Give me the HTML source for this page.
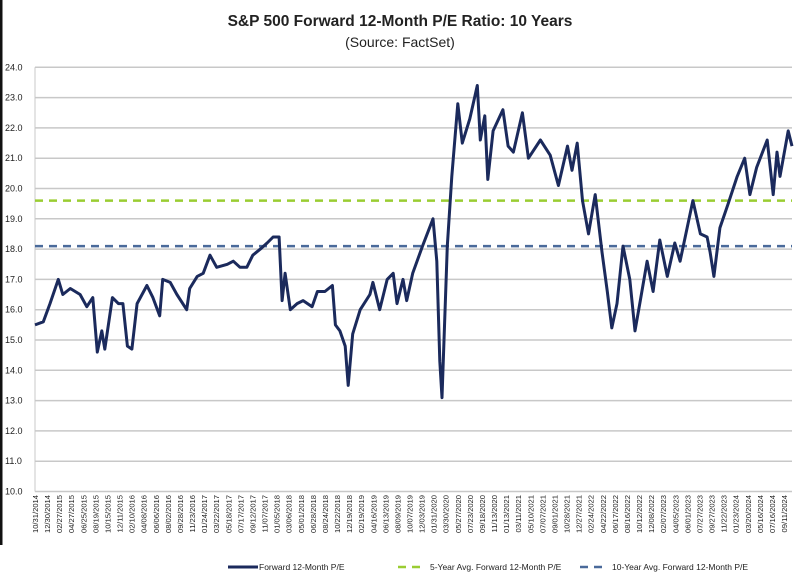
<!DOCTYPE html>
<html><head><meta charset="utf-8"><style>
body{margin:0;background:#fff;width:800px;height:580px;overflow:hidden;font-family:"Liberation Sans",Arial,sans-serif}
svg{display:block}
</style></head><body>
<svg id="chart" width="800" height="580">
<rect x="0" y="0" width="2.5" height="545" fill="#111"/>
<text x="400" y="26" text-anchor="middle" font-size="15.5" font-weight="bold" fill="#222">S&amp;P 500 Forward 12-Month P/E Ratio: 10 Years</text>
<text x="400" y="47" text-anchor="middle" font-size="14" fill="#222">(Source: FactSet)</text>
<g id="grid"></g><g id="ylabels"></g><g id="xlabels"></g><g id="refs"></g><g id="series"></g>
<g>
<line x1="228" y1="567" x2="258" y2="567" stroke="#1b2a5c" stroke-width="3"/>
<text x="259" y="570" font-size="8.5" fill="#222">Forward 12-Month P/E</text>
<line x1="398" y1="567" x2="426" y2="567" stroke="#9acd32" stroke-width="2.5" stroke-dasharray="8,6"/>
<text x="430" y="570" font-size="8.5" fill="#222">5-Year Avg. Forward 12-Month P/E</text>
<line x1="580" y1="567" x2="608" y2="567" stroke="#4a6a9a" stroke-width="2.5" stroke-dasharray="8,6"/>
<text x="612" y="570" font-size="8.5" fill="#222">10-Year Avg. Forward 12-Month P/E</text>
</g>
</svg>
<script>
const yTicks=[10,11,12,13,14,15,16,17,18,19,20,21,22,23,24];
const xDates=["10/31/2014","12/30/2014","02/27/2015","04/27/2015","06/25/2015","08/19/2015","10/15/2015","12/11/2015","02/10/2016","04/08/2016","06/06/2016","08/02/2016","09/28/2016","11/23/2016","01/24/2017","03/22/2017","05/18/2017","07/17/2017","09/12/2017","11/07/2017","01/05/2018","03/06/2018","05/01/2018","06/28/2018","08/24/2018","10/22/2018","12/19/2018","02/19/2019","04/16/2019","06/13/2019","08/09/2019","10/07/2019","12/03/2019","01/31/2020","03/30/2020","05/27/2020","07/23/2020","09/18/2020","11/13/2020","01/13/2021","03/11/2021","05/10/2021","07/07/2021","09/01/2021","10/28/2021","12/27/2021","02/24/2022","04/22/2022","06/17/2022","08/16/2022","10/12/2022","12/08/2022","02/07/2023","04/05/2023","06/01/2023","07/27/2023","09/27/2023","11/22/2023","01/23/2024","03/20/2024","05/16/2024","07/16/2024","09/11/2024"];
const times=[2014.83,2014.94,2015.03,2015.14,2015.20,2015.30,2015.43,2015.52,2015.60,2015.66,2015.72,2015.76,2015.86,2015.94,2016.00,2016.06,2016.12,2016.19,2016.32,2016.40,2016.49,2016.53,2016.63,2016.72,2016.85,2016.89,2016.99,2017.07,2017.16,2017.25,2017.39,2017.47,2017.56,2017.65,2017.73,2017.83,2017.92,2018.00,2018.08,2018.12,2018.16,2018.23,2018.32,2018.40,2018.52,2018.59,2018.69,2018.79,2018.83,2018.89,2018.96,2019.00,2019.06,2019.16,2019.29,2019.33,2019.42,2019.52,2019.60,2019.65,2019.73,2019.78,2019.86,2019.99,2020.13,2020.18,2020.22,2020.25,2020.32,2020.38,2020.46,2020.52,2020.62,2020.72,2020.76,2020.82,2020.86,2020.93,2021.06,2021.13,2021.20,2021.32,2021.40,2021.56,2021.69,2021.80,2021.92,2021.98,2022.05,2022.12,2022.20,2022.29,2022.38,2022.45,2022.51,2022.58,2022.66,2022.75,2022.82,2022.89,2022.98,2023.06,2023.15,2023.25,2023.35,2023.42,2023.59,2023.69,2023.78,2023.82,2023.87,2023.95,2024.06,2024.18,2024.28,2024.35,2024.44,2024.58,2024.66,2024.71,2024.75,2024.86,2024.91];
const pe=[15.5,15.6,16.2,17.0,16.5,16.7,16.5,16.1,16.4,14.6,15.3,14.7,16.4,16.2,16.2,14.8,14.7,16.2,16.8,16.4,15.8,17.0,16.9,16.5,16.0,16.7,17.1,17.2,17.8,17.4,17.5,17.6,17.4,17.4,17.8,18.0,18.2,18.4,18.4,16.3,17.2,16.0,16.2,16.3,16.1,16.6,16.6,16.8,15.5,15.3,14.8,13.5,15.2,16.0,16.5,16.9,16.0,17.0,17.2,16.2,17.0,16.3,17.2,18.1,19.0,17.6,14.3,13.1,18.1,20.4,22.8,21.5,22.3,23.4,21.6,22.4,20.3,21.9,22.6,21.4,21.2,22.5,21.0,21.6,21.1,20.1,21.4,20.6,21.5,19.6,18.5,19.8,17.9,16.6,15.4,16.2,18.1,17.0,15.3,16.3,17.6,16.6,18.3,17.1,18.2,17.6,19.6,18.5,18.4,17.9,17.1,18.7,19.5,20.4,21.0,19.8,20.7,21.6,19.8,21.2,20.4,21.9,21.4];
const avg5=19.6, avg10=18.1;
const X0=35,X1=792,T0=2014.83,T1=2024.91,Y0=491.5,YS=30.3;
const sx=t=>X0+(t-T0)/(T1-T0)*(X1-X0);
const sy=v=>Y0-(v-10)*YS;
const NS="http://www.w3.org/2000/svg";
function mk(tag,parent,attrs){const e=document.createElementNS(NS,tag);for(const k in attrs)e.setAttribute(k,attrs[k]);parent.appendChild(e);return e;}
const grid=document.getElementById('grid'),yl=document.getElementById('ylabels');
yTicks.forEach(v=>{
  const l=mk('line',grid,{x1:X0,x2:X1,y1:sy(v),y2:sy(v),stroke:'#c8c8c8','stroke-width':1.5});
  
  
  const t=mk('text',yl,{x:5,y:sy(v)+3,'font-size':9,fill:'#222'});
  t.textContent=v.toFixed(1);
  
  
});
const ax=mk('line',grid,{x1:X0,x2:X0,y1:sy(24),y2:sy(10),stroke:'#c8c8c8','stroke-width':1});


const xl=document.getElementById('xlabels');
const step=(X1-X0-8)/(xDates.length-1);
xDates.forEach((d,i)=>{
  const x=X0+3+i*step;
  const t=mk('text',xl,{x:0,y:0,'font-size':7.6,fill:'#222','text-anchor':'end',transform:`translate(${x},495) rotate(-90)`});
  t.textContent=d;
  
  
});
const refs=document.getElementById('refs');
const r5=mk('line',refs,{x1:X0,x2:X1,y1:sy(avg5),y2:sy(avg5),stroke:'#9acd32','stroke-width':2.5,'stroke-dasharray':'8,6'});


const r10=mk('line',refs,{x1:X0,x2:X1,y1:sy(avg10),y2:sy(avg10),stroke:'#4a6a9a','stroke-width':2.5,'stroke-dasharray':'8,6'});


const pts=times.map((t,i)=>sx(t).toFixed(1)+','+sy(pe[i]).toFixed(1)).join(' ');
const pl=mk('polyline',document.getElementById('series'),{points:pts,fill:'none',stroke:'#1b2a5c','stroke-width':3,'stroke-linejoin':'round'});


</script>
</body></html>
